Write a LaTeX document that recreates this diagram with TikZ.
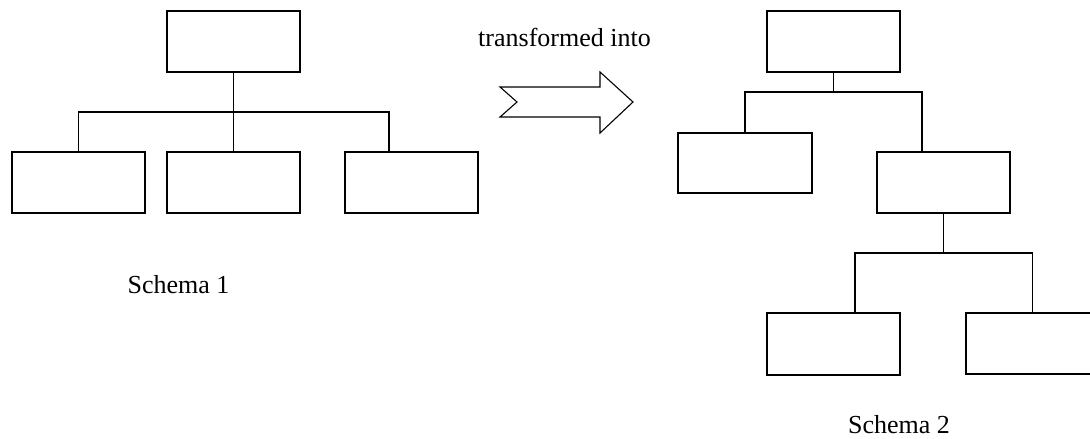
\documentclass[tikz,border=0pt]{standalone}
\usepackage{fontspec}
\setmainfont{Liberation Serif}
\begin{document}
\begin{tikzpicture}[x=1pt,y=-1pt,
  box/.style={draw, line width=1.1pt, minimum width=133pt, minimum height=61pt, inner sep=0pt},
  conn/.style={line width=1.1pt},
  lbl/.style={font=\fontsize{26}{30}\selectfont, inner sep=0pt, anchor=base},
  bigarrow/.style={draw, line width=1.1pt, line join=miter}]
\useasboundingbox (0,0) rectangle (1090,439);
\clip (0,0) rectangle (1090,439);
% Schema 1
\node[box] (t1) at (233.5,41.5) {};
\node[box] (b1) at (78.5,182.5) {};
\node[box] (b2) at (233.5,182.5) {};
\node[box] (b3) at (411.5,182.5) {};
\coordinate (bus1) at (233.5,112);
\draw[conn] (t1.south) -- (b2.north);
\draw[conn] (b1.north) |- (bus1) -| ([xshift=-22.5pt]b3.north);
\node[lbl] (s1) at (178.5,293) {Schema 1};
% transformation arrow
\node[lbl] (tr) at (564.5,46) {transformed into};
\draw[bigarrow] (500,87) -- (600,87) -- (600,72) -- (633,102) -- (600,133) -- (600,117) -- (500,117) -- (517,102) -- cycle;
% Schema 2
\node[box] (t2) at (833.5,41.5) {};
\node[box, minimum width=134pt, minimum height=60pt] (l2) at (745,163) {};
\node[box] (r2) at (943.5,182.5) {};
\node[box, minimum height=62pt] (bl) at (833.5,344) {};
\node[box] (br) at (1032.5,343.5) {};
\coordinate (bus2) at (833.5,92);
\coordinate (bus3) at (943.5,253);
\draw[conn] (t2.south) -- (bus2);
\draw[conn] (l2.north) |- (bus2) -| ([xshift=-21.5pt]r2.north);
\draw[conn] (r2.south) -- (bus3);
\draw[conn] ([xshift=21.5pt]bl.north) |- (bus3) -| (br.north);
\node[lbl] (s2) at (899,433) {Schema 2};
\end{tikzpicture}
\end{document}
